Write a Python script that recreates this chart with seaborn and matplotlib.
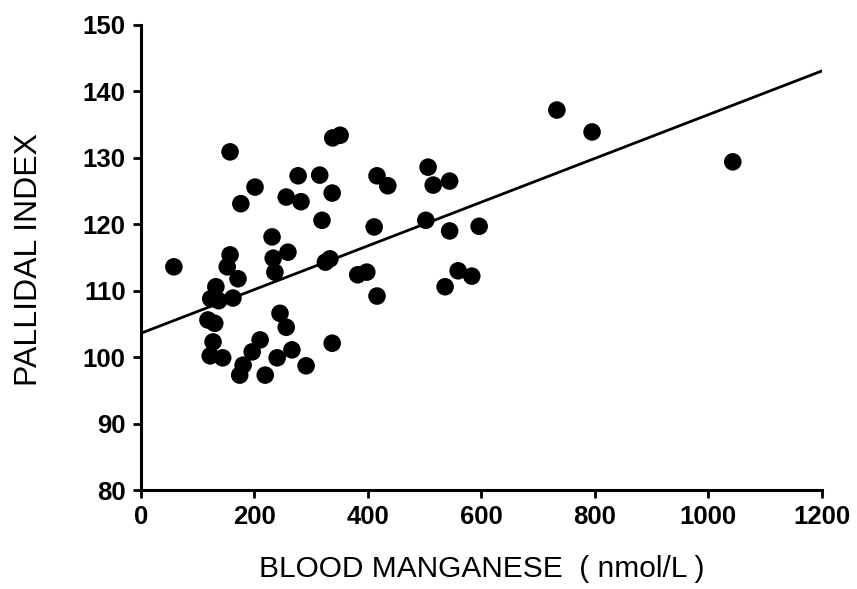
import numpy as np
import pandas as pd
import matplotlib
matplotlib.use("Agg")
import matplotlib.pyplot as plt
import seaborn as sns

# Data (blood manganese nmol/L, pallidal index)
blood_mn = [58, 157, 201, 176, 256, 282, 277, 315, 319, 231,
            157, 152, 171, 132, 123, 137, 162, 118, 130, 127,
            122, 144, 174, 180, 196, 210, 219, 240, 266, 291,
            245, 256, 233, 236, 259, 338, 351, 416, 435, 506,
            515, 544, 337, 411, 502, 544, 596, 325, 333, 382,
            398, 416, 536, 559, 583, 337, 733, 795, 1043]
pallidal_index = [113.6, 130.9, 125.6, 123.1, 124.1, 123.4, 127.3, 127.4, 120.6, 118.1,
                  115.4, 113.6, 111.8, 110.6, 108.8, 108.5, 108.9, 105.6, 105.1, 102.3,
                  100.2, 99.9, 97.3, 98.8, 100.8, 102.6, 97.3, 99.9, 101.1, 98.7,
                  106.6, 104.5, 114.9, 112.8, 115.8, 133.0, 133.4, 127.3, 125.8, 128.6,
                  125.9, 126.5, 124.7, 119.6, 120.6, 119.0, 119.7, 114.3, 114.8, 112.4,
                  112.8, 109.2, 110.6, 113.0, 112.2, 102.1, 137.2, 133.9, 129.4]

# Regression line as printed in the reference
fit_intercept = 103.6
fit_slope = 0.0329
fit_x = [0, 1200]

x_ticks = [0, 200, 400, 600, 800, 1000, 1200]
y_ticks = [80, 90, 100, 110, 120, 130, 140, 150]

df = pd.DataFrame({"mn": blood_mn, "pi": pallidal_index})
fit_df = pd.DataFrame({"x": fit_x,
                       "y": [fit_intercept + fit_slope * v for v in fit_x]})

sns.set_theme(style="ticks")
plt.rcParams["font.family"] = ["Liberation Sans", "DejaVu Sans"]

fig = plt.figure(figsize=(8.57, 5.89), dpi=100)
ax = fig.add_axes([0.1645, 0.168, 0.7945, 0.7896])

sns.lineplot(data=fit_df, x="x", y="y", ax=ax, color="black", lw=2.0)
sns.scatterplot(data=df, x="mn", y="pi", ax=ax, s=160, color="black",
                edgecolor="none", zorder=3)

ax.set_xlim(0, 1200)
ax.set_ylim(80, 150)
ax.set_xticks(x_ticks)
ax.set_yticks(y_ticks)
ax.set_xticklabels([str(t) for t in x_ticks], fontsize=18.5, fontweight="bold", color="black")
ax.set_yticklabels([str(t) for t in y_ticks], fontsize=18.5, fontweight="bold", color="black")
ax.tick_params(axis="both", length=6, width=2, color="black", pad=5)
for side in ["top", "right"]:
    ax.spines[side].set_visible(False)
for side in ["left", "bottom"]:
    ax.spines[side].set_linewidth(2.2)
    ax.spines[side].set_color("black")

ax.set_xlabel("BLOOD MANGANESE  ( nmol/L )", fontsize=21.5, color="black")
ax.set_ylabel("PALLIDAL INDEX", fontsize=23, color="black")
ax.xaxis.set_label_coords(0.5, -0.14)
ax.yaxis.set_label_coords(-0.143, 0.495)

fig.savefig("out.png", dpi=100, facecolor="white")
